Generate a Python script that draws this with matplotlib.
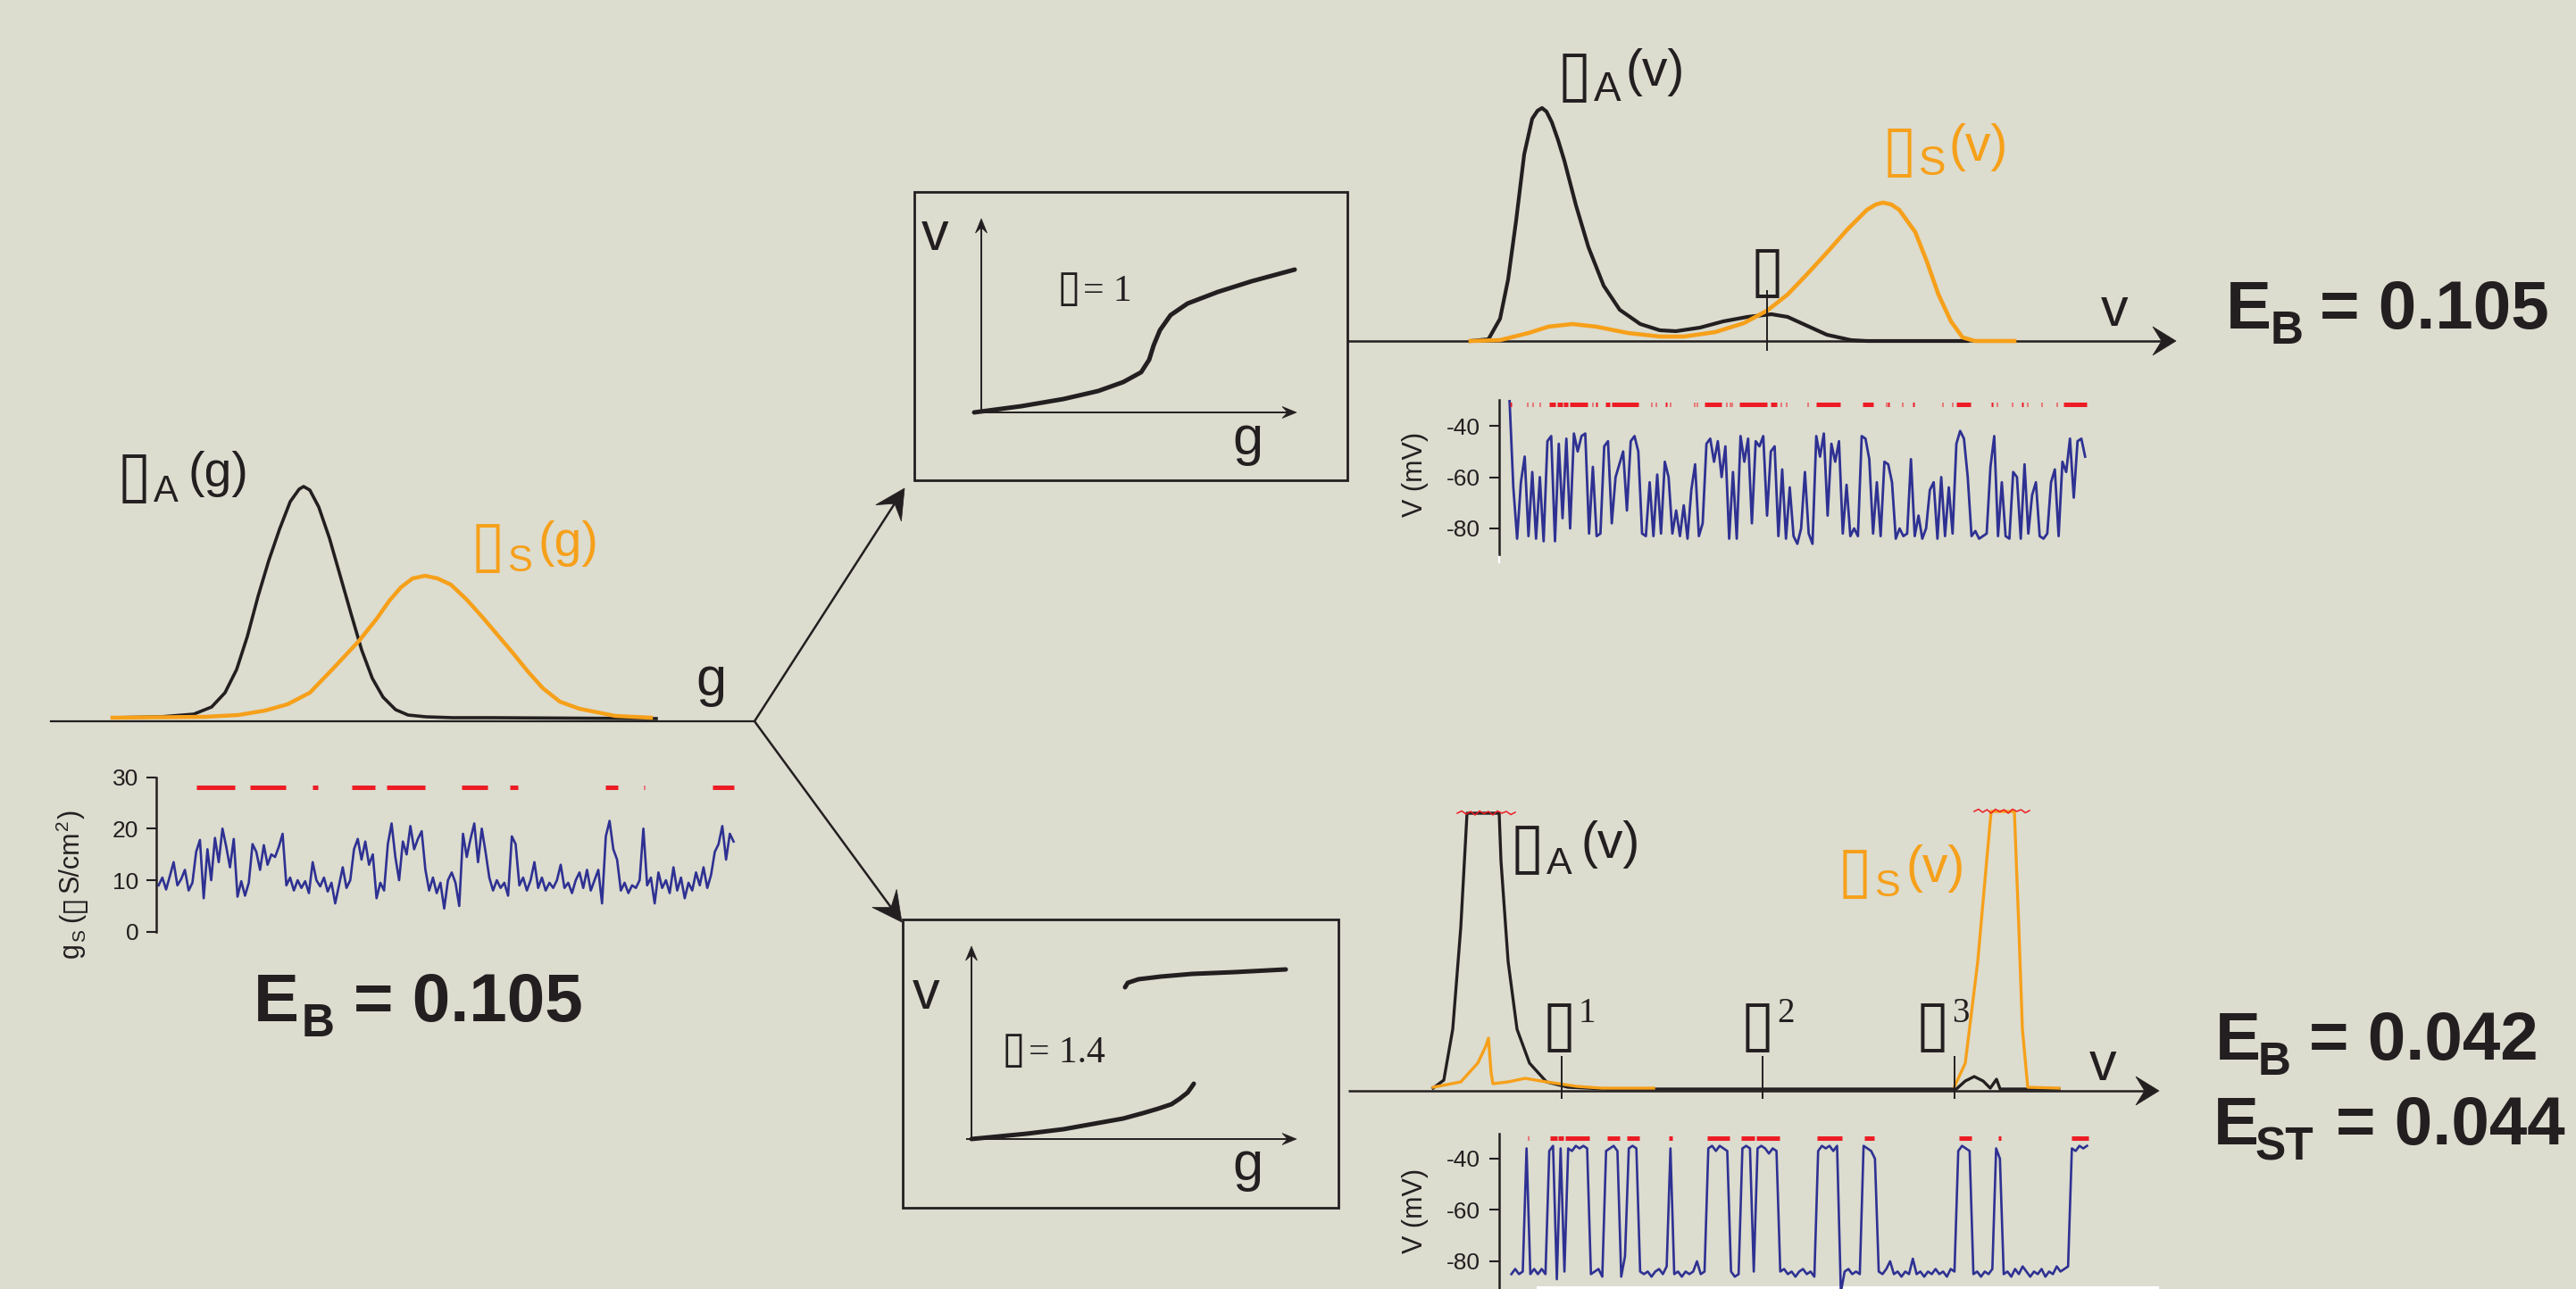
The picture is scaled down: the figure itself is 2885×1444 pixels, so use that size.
import numpy as np
import matplotlib
matplotlib.use("Agg")
import matplotlib.pyplot as plt
from matplotlib.patches import Polygon, Rectangle

W, H = 2885, 1444
BG = "#dcdccf"
INK = "#231f20"
ORANGE = "#f6a01a"
BLUE = "#2e3192"
RED = "#ed1c24"
SANS = ["Liberation Sans", "DejaVu Sans"]
SERIF = ["Liberation Serif", "DejaVu Serif"]
BOXFONT = ["DejaVu Sans"]
BOX = "\u25af"

plt.rcParams["font.family"] = SANS
plt.rcParams["axes.unicode_minus"] = False

# ---------------- data ----------------
# conductance densities, left panel (g along axis, density height)
G_A = [69, 123, 160, 180, 195, 208, 220, 232, 244, 256, 268, 278, 283, 290, 300,
       312, 324, 336, 348, 360, 372, 386, 400, 420, 450, 494, 678]
RHO_A_G = [4, 5, 8, 16, 32, 58, 95, 140, 180, 215, 246, 260, 263, 259, 240,
           205, 163, 121, 80, 48, 27, 13, 7, 5, 4, 4, 3]
G_S = [69, 173, 210, 240, 265, 290, 316, 345, 365, 379, 392, 405, 419, 433, 448,
       465, 483, 500, 517, 534, 551, 570, 592, 632, 672]
RHO_S_G = [4, 5, 7, 12, 19, 32, 59, 90, 115, 135, 150, 160, 163, 160, 153,
           137, 117, 97, 77, 56, 37, 22, 14, 6, 4]

# voltage densities, top branch
V_TOP_A = [138, 158, 171, 180, 189, 198, 207, 213, 218, 223, 229, 236, 243, 256, 270,
           287, 305, 328, 350, 368, 395, 421, 448, 475, 493, 515, 537, 564, 582, 694]
RHO_A_TOP = [0, 2, 25, 69, 135, 209, 249, 258, 261, 257, 245, 225, 202, 152, 105,
             62, 35, 19, 12, 11, 15, 22, 27, 30, 27, 17, 7, 1, 0, 0]
V_TOP_S = [138, 171, 203, 225, 252, 279, 314, 350, 377, 412, 444, 470, 493, 515, 537,
           560, 582, 592, 600, 609, 618, 636, 649, 662, 676, 689, 703, 747]
RHO_S_TOP = [0, 1, 9, 16, 19, 16, 9, 5, 5, 10, 20, 34, 52, 75, 99,
             125, 147, 153, 155, 153, 147, 122, 89, 52, 22, 4, 0, 0]
THETA_TOP = [470]

# voltage densities, bottom branch (peaks cut at the top)
V_BOT_A = [95, 107, 117, 126, 133, 169, 171, 179, 189, 203, 222, 246, 290,
           681, 691, 701, 711, 719, 726, 730, 796]
RHO_A_BOT = [3, 12, 69, 183, 311, 311, 258, 145, 69, 31, 10, 4, 2,
             2, 11, 16, 11, 3, 13, 2, 2]
V_BOT_S = [95, 126, 145, 154, 157, 160, 162, 179, 198, 222, 256, 284, 342, np.nan,
           679, 691, 705, 715, 720, 746, 751, 755, 761, 796]
RHO_S_BOT = [4, 10, 31, 50, 59, 20, 8, 10, 14, 10, 5, 3, 3, np.nan,
             5, 31, 145, 258, 313, 313, 183, 69, 4, 3]
THETA_BOT = [239, 464, 679]
CUT_A = [122, 187, 311]
CUT_S = [701, 763, 313]
CUT_WAVE = [0, 2.5, -1, 2, -2, 2.5, -0.5, 2, -2, 2.5, 0, 2, -1.5, 1]

# v(g) transfer curves in the boxes
SIG_G = [-8, 45, 92, 131, 159, 179, 188, 193, 200, 212, 231, 265, 303, 351]
SIG_V = [0, 7, 15, 24, 34, 45, 59, 75, 92, 109, 122, 135, 147, 160]
LO_G = [0, 62, 103, 142, 170, 192, 209, 224, 233, 242, 247, 249]
LO_V = [0, 6, 11, 18, 23, 29, 34, 39, 45, 52, 59, 62]
UP_G = [172, 175, 187, 212, 247, 295, 352]
UP_V = [170, 175, 179, 182, 185, 187, 190]

# g_S trace (uS/cm2), one sample per step
G_TRACE = [9.0, 10.5, 8.2, 10.8, 13.5, 9.0, 10.2, 12.0, 8.0, 9.5,
           15.5, 17.8, 6.5, 16.0, 10.0, 18.2, 13.5, 20.0, 16.5, 12.5,
           18.0, 6.8, 9.8, 7.0, 9.5, 17.0, 15.5, 12.0, 16.8, 13.0,
           15.0, 14.5, 16.5, 19.0, 9.0, 10.5, 8.0, 10.0, 8.5, 9.8,
           7.5, 13.5, 10.0, 8.8, 10.5, 7.8, 9.5, 5.5, 9.0, 12.5,
           8.5, 10.0, 16.0, 18.0, 14.0, 17.5, 13.0, 15.0, 6.5, 9.5,
           8.0, 17.0, 21.0, 14.5, 10.0, 17.5, 15.0, 20.5, 16.0, 18.0,
           19.5, 12.0, 8.0, 10.5, 7.5, 9.5, 4.5, 10.0, 11.5, 9.5,
           5.0, 19.0, 14.5, 18.0, 21.0, 13.5, 20.0, 15.5, 10.5, 8.0,
           10.0, 8.5, 9.5, 7.0, 18.5, 17.0, 9.0, 10.5, 8.0, 10.0,
           13.5, 8.5, 10.5, 8.0, 9.5, 8.5, 10.0, 13.0, 8.5, 9.5,
           7.5, 10.0, 11.5, 8.5, 12.0, 8.0, 10.0, 12.0, 5.5, 18.5,
           21.5, 16.0, 14.0, 8.0, 9.5, 7.5, 9.0, 8.5, 10.0, 20.0,
           9.0, 10.5, 5.5, 11.5, 8.5, 10.0, 7.5, 12.5, 8.0, 10.5,
           6.5, 9.5, 8.0, 11.5, 9.0, 12.5, 8.5, 11.0, 15.5, 17.0,
           20.5, 14.0, 19.0, 17.5]
G_UP_ON = [10.0, 24.4, 41.0, 51.5, 60.7, 80.7, 93.5, 118.9, 129.0, 147.5]
G_UP_OFF = [20.2, 33.8, 42.5, 57.7, 70.9, 87.6, 95.7, 122.2, 129.3, 153.2]

# membrane potential traces (mV)
V_TOP = [-30, -64, -84, -62, -52, -83, -58, -84, -60, -85,
         -46, -44, -85, -47, -76, -45, -80, -43, -50, -44,
         -43, -82, -56, -83, -82, -48, -46, -78, -60, -55,
         -50, -73, -46, -44, -50, -82, -83, -62, -83, -59,
         -82, -54, -60, -82, -73, -83, -71, -84, -65, -55,
         -83, -78, -47, -45, -54, -46, -60, -48, -84, -58,
         -84, -44, -54, -45, -78, -46, -48, -44, -75, -50,
         -48, -83, -57, -84, -64, -83, -86, -80, -58, -82,
         -86, -44, -52, -43, -75, -47, -54, -46, -82, -63,
         -83, -80, -83, -44, -45, -53, -82, -62, -83, -54,
         -55, -62, -84, -80, -83, -82, -53, -83, -75, -84,
         -80, -65, -62, -84, -60, -83, -64, -82, -47, -42,
         -45, -60, -83, -81, -84, -83, -82, -56, -44, -83,
         -62, -83, -84, -58, -60, -84, -55, -82, -67, -62,
         -83, -84, -82, -62, -57, -83, -54, -58, -45, -68,
         -46, -45, -52]
TOP_UP_ON = [0.2, 4.5, 6.0, 7.8, 10.5, 12.5, 14.3, 16.0, 21.8, 22.8, 25.3, 27.0,
             37.3, 38.5, 41.2, 42.2, 48.7, 49.3, 51.6, 57.2, 58.0, 58.5, 60.8, 69.0,
             71.5, 73.0, 78.5, 81.0, 93.3, 99.3, 99.9, 103.5, 106.5, 114.1, 116.7,
             118.0, 127.3, 128.5, 132.5, 135.3, 136.5, 140.3, 144.3, 146.3]
TOP_UP_OFF = [0.5, 4.8, 6.3, 8.1, 12.0, 14.0, 15.3, 20.5, 22.1, 23.1, 26.5, 34.0,
              37.6, 38.8, 41.5, 42.5, 49.0, 49.6, 56.0, 57.5, 58.3, 58.8, 68.0, 70.5,
              71.8, 73.3, 78.8, 87.3, 96.0, 99.6, 100.2, 103.8, 106.8, 114.4, 117.0,
              121.8, 127.6, 128.8, 132.8, 135.6, 136.8, 140.6, 144.6, 152.3]

V_BOT = [-85, -83, -85, -84, -36, -85, -83, -85, -83, -85,
         -37, -35, -87, -36, -84, -36, -37, -35, -36, -35,
         -36, -85, -84, -83, -86, -37, -36, -35, -37, -86,
         -78, -36, -35, -36, -84, -85, -84, -86, -84, -83,
         -85, -82, -36, -85, -84, -86, -84, -85, -84, -80,
         -85, -84, -36, -35, -37, -35, -36, -37, -84, -86,
         -85, -36, -35, -36, -84, -36, -35, -36, -38, -36,
         -37, -84, -83, -85, -84, -86, -84, -83, -85, -84,
         -86, -37, -35, -36, -35, -37, -35, -92, -84, -83,
         -85, -84, -85, -35, -36, -37, -40, -84, -85, -83,
         -80, -85, -84, -86, -84, -85, -79, -85, -84, -86,
         -84, -85, -83, -85, -84, -86, -83, -84, -37, -35,
         -36, -37, -85, -84, -86, -84, -85, -83, -36, -40,
         -85, -84, -86, -83, -85, -82, -84, -86, -84, -85,
         -83, -86, -84, -85, -82, -84, -83, -82, -36, -37,
         -35, -36, -35]
BOT_UP_ON = [4.2, 10.3, 12.3, 14.2, 25.2, 30.4, 41.6, 51.7, 60.7, 64.7, 80.7,
             93.2, 118.3, 128.5, 147.8]
BOT_UP_OFF = [4.5, 12.0, 13.7, 20.5, 28.5, 33.9, 42.5, 57.5, 64.2, 70.8, 87.2,
              95.9, 121.6, 129.2, 152.3]

V_TICKS = [-40, -60, -80]
G_TICKS = [0, 10, 20, 30]

# ---------------- figure ----------------
fig = plt.figure(figsize=(W / 100, H / 100), dpi=100, facecolor=BG)
ax0 = fig.add_axes([0, 0, 1, 1])
ax0.set_xlim(0, W)
ax0.set_ylim(H, 0)
ax0.axis("off")


def px_axes(x0, y0, x1, y1):
    # rectangle in figure pixels, y measured from the top
    ax = fig.add_axes([x0 / W, 1 - y1 / H, (x1 - x0) / W, (y1 - y0) / H])
    ax.set_facecolor("none")
    return ax


def density_axes(x0, x1, base, top, bottom):
    ax = px_axes(x0, top, x1, bottom)
    ax.set_xlim(0, x1 - x0)
    ax.set_ylim(base - bottom, base - top)
    ax.axis("off")
    return ax


def trace_axes(x0, x1, y0, y1, ylim, xlim, ticks, pad):
    ax = px_axes(x0, y0, x1, y1)
    ax.set_xlim(*xlim)
    ax.set_ylim(*ylim)
    for s in ("top", "right", "bottom"):
        ax.spines[s].set_visible(False)
    ax.spines["left"].set_linewidth(1.8)
    ax.spines["left"].set_color(INK)
    ax.set_xticks([])
    ax.set_yticks(ticks)
    ax.tick_params(axis="y", length=8, width=1.5, pad=pad, labelsize=19,
                   colors=INK)
    return ax


def raster(ax, level, on, off):
    lc = ax.hlines(np.full(len(on), level), on, off, colors=RED, lw=3.6)
    lc.set_capstyle("butt")


def stealth(tip, tail, length, width):
    tip = np.asarray(tip, float)
    tail = np.asarray(tail, float)
    d = (tip - tail) / np.hypot(*(tip - tail))
    n = np.array([-d[1], d[0]])
    back = tip - length * d
    notch = tip - 0.62 * length * d
    pts = [tip, back + n * width / 2, notch, back - n * width / 2]
    ax0.add_patch(Polygon(pts, closed=True, fc=INK, ec=INK, lw=0.5, zorder=3))
    return notch


def arrow(tail, tip, length, width, lw):
    notch = stealth(tip, tail, length, width)
    ax0.plot([tail[0], notch[0]], [tail[1], notch[1]], color=INK, lw=lw,
             solid_capstyle="butt")


def put(x, y, s, size, color=INK, family=SANS, weight="normal", ha="left"):
    return ax0.text(x, y, s, fontsize=size, color=color, family=family,
                    fontweight=weight, ha=ha, va="baseline")


def rho_label(x_sub, x_tail, base, sub_base, sub, tail, color, size, sub_size):
    # the missing-glyph box ends where the subscript starts
    put(x_sub - 2, base + 10, BOX, 51, color=color, family=BOXFONT, ha="right")
    put(x_sub, sub_base, sub, sub_size, color=color)
    put(x_tail, base, tail, size, color=color)


def e_label(x_e, x_sub, x_rest, base, sub, rest):
    put(x_e, base, "E", 55, weight="bold")
    put(x_sub, base + 17, sub, 37, weight="bold")
    put(x_rest, base, rest, 55, weight="bold")


# ---------------- schematic lines ----------------
ax0.plot([57, 845], [808, 808], color=INK, lw=1.6)
arrow((845, 808), (1013, 547), 33, 34, 1.8)
arrow((845, 808), (1010, 1033), 33, 34, 1.8)
arrow((1509, 382), (2437, 382), 26, 32, 1.8)
arrow((1510, 1222), (2418, 1222), 26, 32, 1.8)

ax0.add_patch(Rectangle((1024, 215), 485, 323, fc="none", ec=INK, lw=2.0))
ax0.add_patch(Rectangle((1011, 1030), 488, 323, fc="none", ec=INK, lw=2.0))
arrow((1099, 462), (1099, 245), 16, 13, 1.4)
arrow((1093, 462), (1452, 462), 16, 13, 1.4)
arrow((1088, 1276), (1088, 1060), 16, 13, 1.4)
arrow((1082, 1276), (1452, 1276), 16, 13, 1.4)

ax0.plot([1722, 2416], [1442, 1442], color="white", lw=2.2)
ax0.plot([1679, 1679], [621, 630], color="white", lw=1.6)

# ---------------- densities ----------------
axl = density_axes(57, 845, 808, 480, 830)
axl.plot(G_A, RHO_A_G, color=INK, lw=2.6, clip_on=False)
axl.plot(G_S, RHO_S_G, color=ORANGE, lw=3.2, clip_on=False)

axt = density_axes(1509, 2437, 382, 40, 410)
axt.plot(V_TOP_A, RHO_A_TOP, color=INK, lw=3.0, clip_on=False)
axt.plot(V_TOP_S, RHO_S_TOP, color=ORANGE, lw=3.3, clip_on=False)
axt.vlines(THETA_TOP, -11, 57, color=INK, lw=1.4)

axb = density_axes(1510, 2418, 1222, 880, 1250)
axb.plot(V_BOT_A, RHO_A_BOT, color=INK, lw=2.4, clip_on=False)
axb.plot(V_BOT_S, RHO_S_BOT, color=ORANGE, lw=2.4, clip_on=False)
axb.vlines(THETA_BOT, -9, 39, color=INK, lw=1.4)
for x_start, x_end, level in (CUT_A, CUT_S):
    wx = np.linspace(x_start, x_end, len(CUT_WAVE))
    axb.plot(wx, level + np.asarray(CUT_WAVE), color=RED, lw=1.1, clip_on=False)

# ---------------- v(g) boxes ----------------
axbox1 = px_axes(1080, 230, 1470, 470)
axbox1.set_xlim(-19, 371)
axbox1.set_ylim(-8, 232)
axbox1.axis("off")
axbox1.plot(SIG_G, SIG_V, color=INK, lw=3.6, solid_capstyle="round", clip_on=False)

axbox2 = px_axes(1070, 1040, 1470, 1290)
axbox2.set_xlim(-18, 382)
axbox2.set_ylim(-14, 236)
axbox2.axis("off")
axbox2.plot(LO_G, LO_V, color=INK, lw=3.6, solid_capstyle="round", clip_on=False)
axbox2.plot(UP_G, UP_V, color=INK, lw=3.6, solid_capstyle="round", clip_on=False)

# ---------------- traces ----------------
axg = trace_axes(175, 830, 870.5, 1043.8, (0, 30), (-0.62, 155.0), G_TICKS, 6.2)
axg.plot(np.arange(len(G_TRACE)), G_TRACE, color=BLUE, lw=1.9)
raster(axg, 28, G_UP_ON, G_UP_OFF)

axv1 = trace_axes(1679, 2345, 448, 621, (-90.1, -29.9), (-2.74, 154.3), V_TICKS, 7.2)
axv1.plot(np.arange(len(V_TOP)), V_TOP, color=BLUE, lw=2.0)
raster(axv1, -31.7, TOP_UP_ON, TOP_UP_OFF)

axv2 = trace_axes(1679, 2345, 1270, 1444, (-90.8, -30.26), (-3.23, 153.8), V_TICKS, 7.2)
axv2.plot(np.arange(len(V_BOT)), V_BOT, color=BLUE, lw=1.9)
raster(axv2, -31.9, BOT_UP_ON, BOT_UP_OFF)

# ---------------- text ----------------
rho_label(172, 210, 545, 562, "A", "(g)", INK, 40, 30)
rho_label(568, 603, 623, 640, "S", "(g)", ORANGE, 40, 30)
rho_label(1785, 1821, 96, 113, "A", "(v)", INK, 41, 33)
rho_label(2149, 2183, 180, 196, "S", "(v)", ORANGE, 41, 33)
rho_label(1732, 1770, 961, 979, "A", "(v)", INK, 41, 31)
rho_label(2099, 2134, 988, 1004, "S", "(v)", ORANGE, 41, 31)

put(796, 779, "g", 44, ha="center")
put(2368, 365, "v", 44, ha="center")
put(2355, 1210, "v", 44, ha="center")
put(1047, 280, "v", 44, ha="center")
put(1397, 509, "g", 44, ha="center")
put(1037, 1130, "v", 44, ha="center")
put(1397, 1322, "g", 44, ha="center")

put(1210, 337, BOX, 35, family=BOXFONT, ha="right")
put(1213, 337, "= 1", 30, family=SERIF)
put(1148, 1190, BOX, 35, family=BOXFONT, ha="right")
put(1152, 1190, "= 1.4", 30, family=SERIF)

put(1979, 325, BOX, 51, family=BOXFONT, ha="center")
for xs, s in ((1768, "1"), (1990, "2"), (2186, "3")):
    put(xs - 2, 1170, BOX, 51, family=BOXFONT, ha="right")
    put(xs, 1145, s, 28, family=SERIF)

e_label(2493, 2543, 2598, 368, "B", "= 0.105")
e_label(2481, 2529, 2586, 1187, "B", "= 0.042")
e_label(2479, 2526, 2616, 1282, "ST", "= 0.044")
e_label(284, 338, 396, 1144, "B", "= 0.105")

for yc in (531, 1356):
    ax0.text(1593, yc, "V (mV)", fontsize=22, color=INK, rotation=90,
             rotation_mode="anchor", ha="center", va="baseline")

# rotated g_S label, pieces stacked bottom to top
renderer = fig.canvas.get_renderer()
pieces = [("g", 22, 0, 1, SANS), ("S", 15, 7, 8, SANS), ("(", 22, 0, 1, SANS),
          (BOX, 26, 4, 2, BOXFONT), ("S/cm", 22, 0, 1, SANS), ("2", 15, -12, 1, SANS),
          (")", 22, 0, 0, SANS)]
cy = 1073
for s, size, shift, gap, fam in pieces:
    t = ax0.text(88 + shift, cy, s, fontsize=size, color=INK, family=fam,
                 rotation=90, rotation_mode="anchor", ha="left", va="baseline")
    cy -= t.get_window_extent(renderer).height + gap

fig.savefig("out.png", dpi=100, facecolor=BG)
